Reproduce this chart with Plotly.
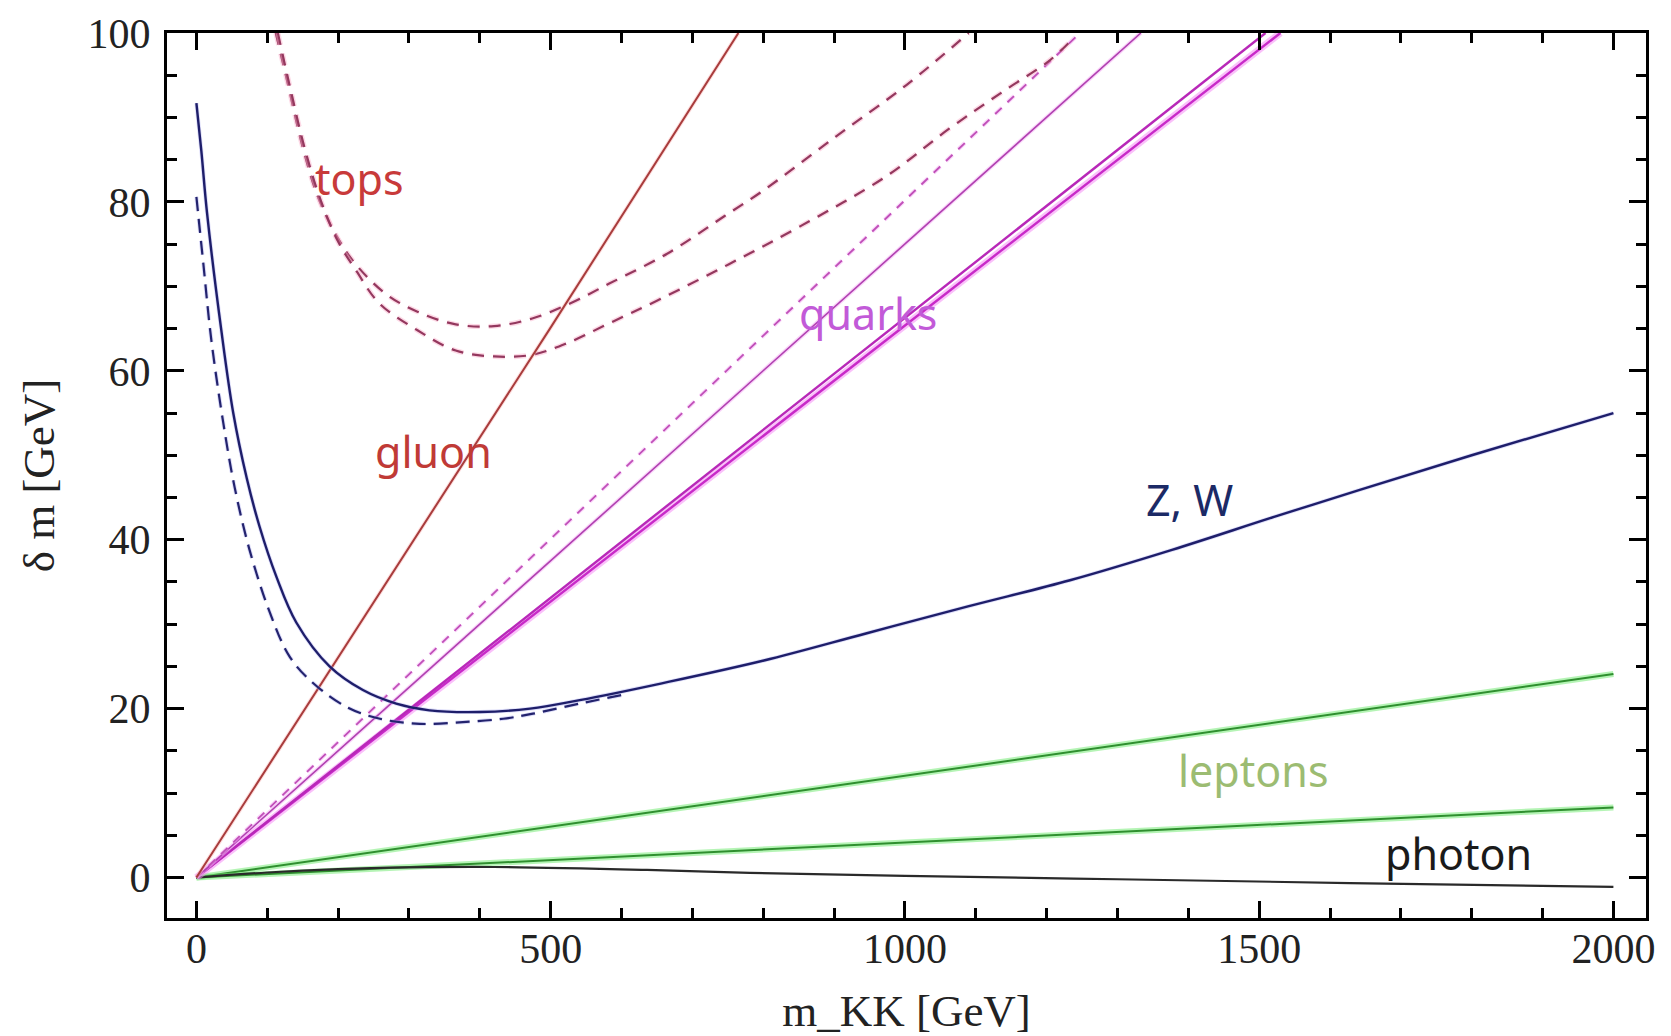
import plotly.graph_objects as go

# ---------------- data ----------------
zw_solid_x = [0, 7, 15, 35, 52, 71, 89, 113, 141, 188, 235, 282, 329, 400, 471, 541, 657, 801, 945, 1089, 1233, 1377, 1521, 1642, 1800, 2000]
zw_solid_y = [91.7, 86, 78.7, 64.9, 55.0, 47.3, 41.6, 35.6, 30.2, 25.0, 22.2, 20.6, 19.8, 19.6, 20.0, 21.0, 23.0, 25.7, 28.9, 32.1, 35.2, 38.8, 42.7, 45.9, 50.0, 55.0]

zw_dash_x = [0, 10, 21, 38, 54, 75, 104, 132, 165, 212, 259, 315, 376, 433, 475, 541, 600]
zw_dash_y = [80.6, 72.5, 63.7, 53.8, 46.2, 38.8, 31.3, 26.1, 23.0, 20.2, 18.8, 18.2, 18.4, 18.8, 19.4, 20.6, 21.6]

gluon_x = [0, 499, 765]
gluon_y = [0, 65, 100]

tops_upper_x = [112, 129, 150, 172, 199, 226, 269, 312, 366, 420, 474, 528, 582, 665, 745, 801, 902, 1003, 1090]
tops_upper_y = [100, 94, 86.5, 80.5, 75.8, 72.5, 69, 67, 65.5, 65.3, 66.2, 68, 70.3, 73.9, 78.3, 81.4, 87.7, 93.9, 100]

tops_lower_x = [115, 131, 153, 175, 200, 226, 258, 312, 366, 420, 474, 524, 582, 650, 751, 852, 973, 1063, 1139, 1205, 1240]
tops_lower_y = [100, 94, 86.3, 80.3, 75.3, 71.8, 68, 64.8, 62.4, 61.7, 61.9, 63.3, 65.6, 68.3, 72.6, 77.1, 83, 88.7, 93.1, 96.8, 99.6]

quark_thick1_x = [0, 1530]
quark_thick1_y = [0, 100]
quark_thick2_x = [0, 1509]
quark_thick2_y = [0, 100]
quark_thin_x = [0, 1333]
quark_thin_y = [0, 100]
quark_dash_x = [0, 1247]
quark_dash_y = [0, 100]

lepton_upper_x = [0, 2000]
lepton_upper_y = [0, 24.1]
lepton_lower_x = [0, 2000]
lepton_lower_y = [0, 8.3]

photon_x = [0, 100, 200, 300, 420, 636, 781, 1000, 1300, 1628, 2000]
photon_y = [0, 0.6, 1.0, 1.2, 1.25, 0.9, 0.55, 0.2, -0.2, -0.65, -1.1]

label_text = ["tops", "gluon", "quarks", "Z, W", "leptons", "photon"]
label_x = [230.5, 334.6, 948, 1401.7, 1492, 1781]
label_y = [82.8, 50.4, 66.8, 44.8, 12.7, 2.8]
label_color = ["#c83a3a", "#c03a36", "#c25ad8", "#1c2a66", "#9cbc72", "#1a1a1a"]

x_title = "m_KK [GeV]"
y_title = "δ m [GeV]"

# ---------------- figure ----------------
fig = go.Figure()


def add(x, y, color, width, dash="solid", shape="linear", halo=None, halo_w=0):
    if halo:
        fig.add_trace(go.Scatter(x=x, y=y, mode="lines", showlegend=False, hoverinfo="skip",
                                 line=dict(color=halo, width=halo_w, dash=dash, shape=shape)))
    fig.add_trace(go.Scatter(x=x, y=y, mode="lines", showlegend=False,
                             line=dict(color=color, width=width, dash=dash, shape=shape)))


# leptons
add(lepton_upper_x, lepton_upper_y, "#2f8f2f", 2, halo="rgba(120,235,120,0.55)", halo_w=6)
add(lepton_lower_x, lepton_lower_y, "#2f8f2f", 2, halo="rgba(120,235,120,0.55)", halo_w=6)
# photon
add(photon_x, photon_y, "#2a2a2a", 2.2, shape="spline")
# quarks
add(quark_thick1_x, quark_thick1_y, "#c82ac8", 2.4, halo="rgba(245,140,245,0.55)", halo_w=7)
add(quark_thick2_x, quark_thick2_y, "#b828b8", 2.4)
add(quark_thin_x, quark_thin_y, "#b040b0", 1.6, halo="rgba(245,170,245,0.5)", halo_w=4)
add(quark_dash_x, quark_dash_y, "#c050b8", 1.8, dash="9px,8px", halo="rgba(245,170,245,0.5)", halo_w=4)
# tops
add(tops_upper_x, tops_upper_y, "#94385e", 2.2, dash="12px,9px", shape="spline",
    halo="rgba(250,170,200,0.45)", halo_w=5)
add(tops_lower_x, tops_lower_y, "#94385e", 2.2, dash="12px,9px", shape="spline",
    halo="rgba(250,170,200,0.45)", halo_w=5)
# gluon
add(gluon_x, gluon_y, "#a83c3c", 2, halo="rgba(250,180,180,0.45)", halo_w=4)
# Z, W
add(zw_dash_x, zw_dash_y, "#23236e", 2.2, dash="14px,8px", shape="spline",
    halo="rgba(170,170,240,0.4)", halo_w=4)
add(zw_solid_x, zw_solid_y, "#1e1e6a", 2.4, shape="spline",
    halo="rgba(170,170,240,0.4)", halo_w=4)

for t, x, y, c in zip(label_text, label_x, label_y, label_color):
    fig.add_annotation(x=x, y=y, text=t, showarrow=False, xanchor="center", yanchor="middle",
                       font=dict(family="Noto Sans", size=43, color=c))

axis_common = dict(
    showgrid=False, zeroline=False,
    showline=True, linecolor="black", linewidth=3, mirror="allticks",
    ticks="inside", ticklen=17, tickwidth=2.5, tickcolor="black",
    tickfont=dict(family="Liberation Serif", size=42, color="#222222"),
)

fig.update_xaxes(
    range=[-41.5, 2046], tick0=0, dtick=500,
    minor=dict(dtick=100, tick0=0, ticks="inside", ticklen=10, tickwidth=2.5, tickcolor="black"),
    title=dict(text=x_title, font=dict(family="Liberation Serif", size=45, color="#222222"), standoff=29),
    ticklabelstandoff=-8,
    **axis_common,
)
fig.update_yaxes(
    range=[-4.79, 100], tick0=0, dtick=20,
    minor=dict(dtick=5, tick0=0, ticks="inside", ticklen=10, tickwidth=2.5, tickcolor="black"),
    title=dict(text=y_title, font=dict(family="Liberation Serif", size=45, color="#222222"), standoff=19),
    ticklabelstandoff=5,
    **axis_common,
)

fig.update_layout(
    width=1671, height=1036,
    margin=dict(l=167, r=25, t=33, b=118, autoexpand=False),
    paper_bgcolor="white", plot_bgcolor="white",
)

fig.write_html("out.html")
